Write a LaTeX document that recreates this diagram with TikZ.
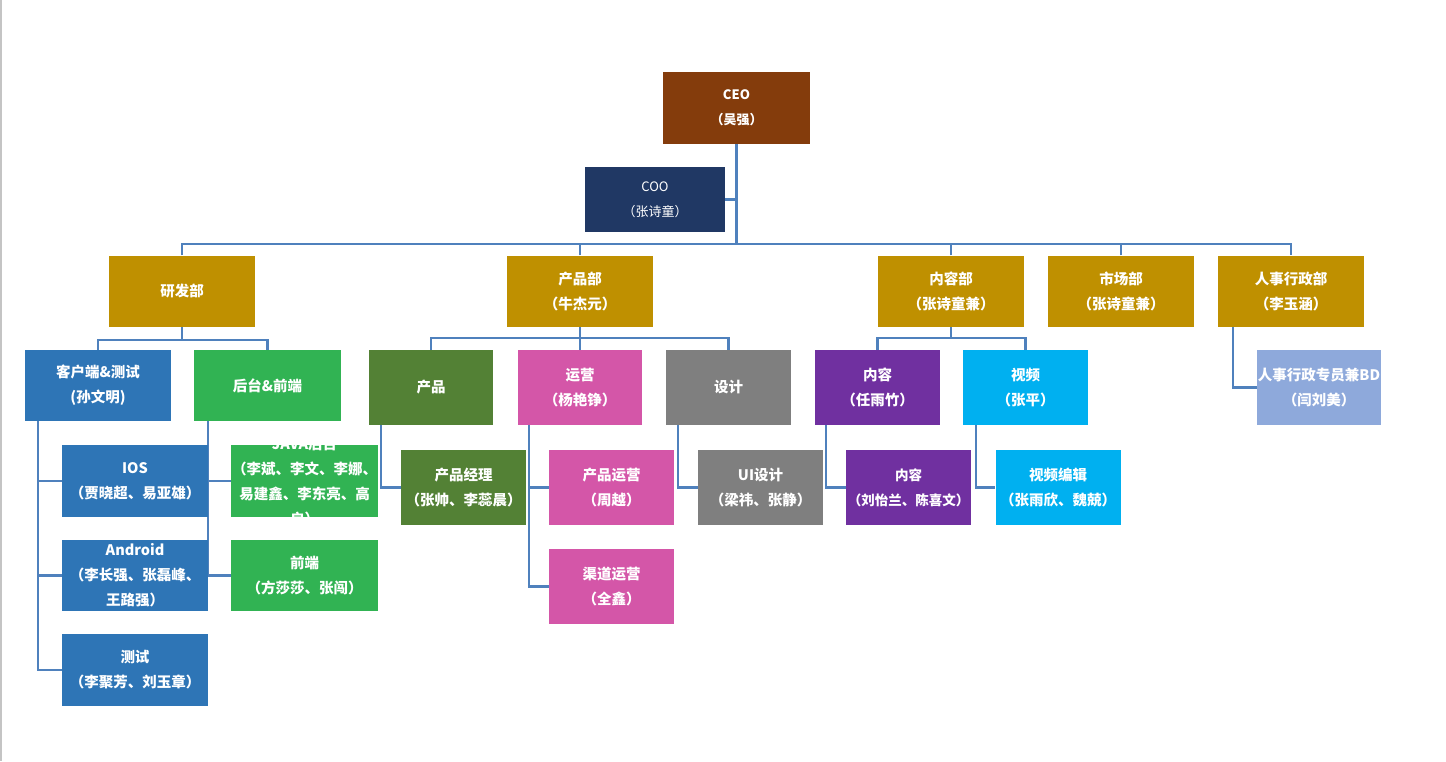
\documentclass[tikz,border=0pt]{standalone}
\usepackage{fontspec}
\setmainfont{Noto Sans CJK SC}
\usetikzlibrary{backgrounds,calc}

\definecolor{ceobrown}{HTML}{843C0C}
\definecolor{coonavy}{HTML}{203864}
\definecolor{deptgold}{HTML}{BF9000}
\definecolor{devblue}{HTML}{2E75B6}
\definecolor{devgreen}{HTML}{31B353}
\definecolor{prodgreen}{HTML}{538135}
\definecolor{opspink}{HTML}{D456A8}
\definecolor{designgrey}{HTML}{7F7F7F}
\definecolor{contpurple}{HTML}{7030A0}
\definecolor{videocyan}{HTML}{00B0F0}
\definecolor{hrblue}{HTML}{8EA9DB}
\definecolor{linkblue}{HTML}{4F81BD}
\definecolor{edgegrey}{HTML}{C4C4C4}

\begin{document}
\begin{tikzpicture}[x=1pt,y=-1pt,
  box/.style={rectangle, inner sep=0pt, text=white, align=center,
    font=\bfseries\fontsize{14.5}{25}\selectfont},
  wide/.style={minimum width=146, minimum height=71},
  narrow/.style={minimum width=125, minimum height=75},
  conn/.style={draw=linkblue, line width=2.5pt},
]
\useasboundingbox (0,0) rectangle (1446,761);

% top management
\node[box, fill=ceobrown, minimum width=147, minimum height=72,
  font=\bfseries\fontsize{13}{25}\selectfont] (ceo) at (736.5,108) {CEO\\（吴强）};
\node[box, fill=coonavy, minimum width=140, minimum height=65,
  font=\fontsize{13}{25}\selectfont] (coo) at (655,199.5) {COO\\（张诗童）};

% departments
\node[box, fill=deptgold, wide] (yf) at (182,291) {研发部};
\node[box, fill=deptgold, wide] (cp) at (580,291) {产品部\\（牛杰元）};
\node[box, fill=deptgold, wide] (nr) at (951,291) {内容部\\（张诗童兼）};
\node[box, fill=deptgold, wide] (sc) at (1121,291) {市场部\\（张诗童兼）};
\node[box, fill=deptgold, wide] (hr) at (1291,291) {人事行政部\\（李玉涵）};

% R&D
\node[box, fill=devblue, wide] (khd) at (98,385.5) {客户端\&测试\\(孙文明)};
\node[box, fill=devgreen, wide, minimum width=147] (ht) at (267.5,385.5) {后台\&前端};
\node[box, fill=devblue, wide, minimum height=72] (ios) at (135,481) {IOS\\（贾晓超、易亚雄）};
\node[box, fill=devblue, wide] (android) at (135,575.5) {Android\\（李长强、张磊峰、\\王路强）};
\node[box, fill=devblue, wide, minimum height=72] (test) at (135,670) {测试\\（李聚芳、刘玉章）};
\node[box, fill=devgreen, minimum width=147, minimum height=72] (java) at (304.5,481) {};
\begin{scope}
  \clip (java.north west) rectangle (java.south east);
  \node[box, inner sep=0pt] at (304.5,481) {JAVA后台\\（李斌、李文、李娜、\\易建鑫、李东亮、高\\启）};
\end{scope}
\node[box, fill=devgreen, wide, minimum width=147] (fe) at (304.5,575.5) {前端\\（方莎莎、张闯）};

% product
\node[box, fill=prodgreen, minimum width=124, minimum height=75] (prod) at (431,387.5) {产品};
\node[box, fill=opspink, minimum width=124, minimum height=75] (ops) at (580,387.5) {运营\\（杨艳铮）};
\node[box, fill=designgrey, narrow] (design) at (728.5,387.5) {设计};
\node[box, fill=prodgreen, narrow] (pm) at (463.5,487.5) {产品经理\\（张帅、李蕊晨）};
\node[box, fill=opspink, narrow] (pops) at (611.5,487.5) {产品运营\\（周越）};
\node[box, fill=opspink, narrow] (chops) at (611.5,586.5) {渠道运营\\（全鑫）};
\node[box, fill=designgrey, narrow] (ui) at (760.5,487.5) {UI设计\\（梁祎、张静）};

% content
\node[box, fill=contpurple, narrow] (cont) at (877.5,387.5) {内容\\（任雨竹）};
\node[box, fill=videocyan, narrow] (video) at (1025.5,387.5) {视频\\（张平）};
\node[box, fill=contpurple, narrow, font=\bfseries\fontsize{13.5}{25}\selectfont]
  (cont2) at (908.5,487.5) {内容\\（刘怡兰、陈喜文）};
\node[box, fill=videocyan, narrow] (vedit) at (1058,487.5) {视频编辑\\（张雨欣、魏兢）};

% HR
\node[box, fill=hrblue, minimum width=124, minimum height=75] (hrstaff) at (1319,387.5) {人事行政专员兼BD\\（闫刘美）};

% bus levels
\coordinate (bus) at (0,244);
\coordinate (busyf) at (0,340);
\coordinate (buscp) at (0,338);
\coordinate (busnr) at (0,338);

\begin{scope}[on background layer]
  \fill[white] (0,0) rectangle (1446,761);
  \draw[edgegrey, line width=1.5pt] (0.75,0) -- (0.75,761);

  % CEO trunk, COO and department bus
  \draw[conn] (ceo.south) -- (ceo.south |- bus);
  \draw[conn] (coo.east) -- (coo.east -| ceo.south);
  \draw[conn] (yf.north) -- (yf.north |- bus) -- (hr.north |- bus) -- (hr.north);
  \draw[conn] (cp.north) -- (cp.north |- bus);
  \draw[conn] (nr.north) -- (nr.north |- bus);
  \draw[conn] (sc.north) -- (sc.north |- bus);

  % R&D branches
  \draw[conn] (yf.south) -- (yf.south |- busyf);
  \draw[conn] (khd.north) -- (khd.north |- busyf) -- (ht.north |- busyf) -- (ht.north);
  \coordinate (k1) at ($(khd.south west)+(13,0)$);
  \draw[conn] (k1) -- (k1 |- test.west) -- (test.west);
  \draw[conn] (k1 |- ios.west) -- (ios.west);
  \draw[conn] (k1 |- android.west) -- (android.west);
  \coordinate (h1) at ($(ht.south west)+(14,0)$);
  \draw[conn] (h1) -- (h1 |- fe.west) -- (fe.west);
  \draw[conn] (h1 |- java.west) -- (java.west);

  % product branches
  \draw[conn] (cp.south) -- (cp.south |- buscp);
  \draw[conn] (prod.north) -- (prod.north |- buscp) -- (design.north |- buscp) -- (design.north);
  \draw[conn] (ops.north) -- (ops.north |- buscp);
  \coordinate (p1) at ($(prod.south west)+(12,0)$);
  \draw[conn] (p1) -- (p1 |- pm.west) -- (pm.west);
  \coordinate (o1) at ($(ops.south west)+(11,0)$);
  \draw[conn] (o1) -- (o1 |- chops.west) -- (chops.west);
  \draw[conn] (o1 |- pops.west) -- (pops.west);
  \coordinate (d1) at ($(design.south west)+(12,0)$);
  \draw[conn] (d1) -- (d1 |- ui.west) -- (ui.west);

  % content branches
  \draw[conn] (nr.south) -- (nr.south |- busnr);
  \draw[conn] (cont.north) -- (cont.north |- busnr) -- (video.north |- busnr) -- (video.north);
  \coordinate (c1) at ($(cont.south west)+(11,0)$);
  \draw[conn] (c1) -- (c1 |- cont2.west) -- (cont2.west);
  \coordinate (v1) at ($(video.south west)+(13,0)$);
  \draw[conn] (v1) -- (v1 |- vedit.west) -- (vedit.west);

  % HR branch
  \coordinate (r1) at ($(hr.south west)+(15,0)$);
  \draw[conn] (r1) -- (r1 |- hrstaff.west) -- (hrstaff.west);
\end{scope}
\end{tikzpicture}
\end{document}
